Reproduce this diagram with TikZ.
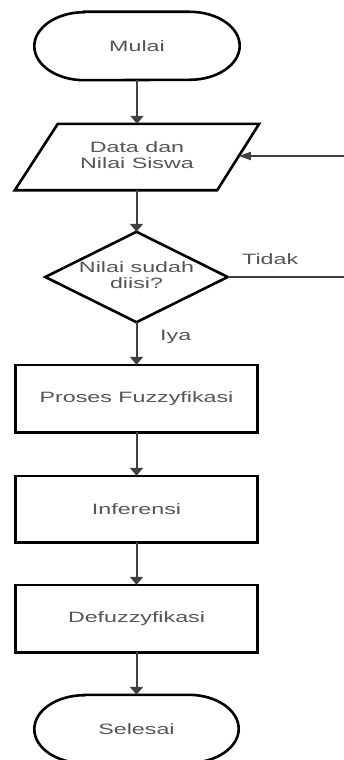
\documentclass[tikz,border=0pt]{standalone}
\usepackage{fontspec}
\setmainfont{Liberation Sans}
\usetikzlibrary{arrows.meta,calc}
\definecolor{txtgray}{HTML}{555555}
\definecolor{conngray}{HTML}{404040}
\newcommand{\sx}[1]{\scalebox{1.55}[1]{#1}}
\newcommand{\twol}[2]{\sx{\begin{tabular}{@{}c@{}}#1\\#2\end{tabular}}}
\begin{document}
\begin{tikzpicture}[x=1pt,y=1pt,
  box/.style={rectangle,draw=none,inner sep=0pt,text=txtgray,
    font=\fontsize{15}{16}\selectfont},
  shapeline/.style={draw=black,line width=2.6pt,line join=miter},
  conn/.style={draw=conngray,line width=2pt},
  vtip/.style={-{Triangle[width=13pt,length=8pt]}},
  htip/.style={-{Triangle[width=8pt,length=12pt]}},
  lbl/.style={text=txtgray,inner sep=0pt,font=\fontsize{15}{16}\selectfont}]
\clip (0,0) rectangle (344,-760);
\fill[white] (0,0) rectangle (344,-760);
% nodes
\node[box,minimum width=205pt,minimum height=68pt] (start) at (137,-46) {\sx{Mulai}};
\node[box,minimum width=244pt,minimum height=66pt] (data) at (137,-157) {\twol{Data dan}{Nilai Siswa}};
\node[box,minimum width=182pt,minimum height=90pt] (dec) at (136.5,-277) {\twol{Nilai sudah}{diisi?}};
\node[box,minimum width=242pt,minimum height=67pt] (p1) at (136.5,-398.5) {\sx{Proses Fuzzyfikasi}};
\node[box,minimum width=242pt,minimum height=66pt] (p2) at (136.5,-509) {\sx{Inferensi}};
\node[box,minimum width=242pt,minimum height=67pt] (p3) at (136.5,-618.5) {\sx{Defuzzyfikasi}};
\node[box,minimum width=204pt,minimum height=68pt] (stop) at (136.5,-729) {\sx{Selesai}};
% shapes
\draw[shapeline] ([xshift=50pt]start.north west) -- ([xshift=-50pt]start.north east)
  arc[start angle=90,end angle=-90,x radius=50pt,y radius=34pt]
  -- ([xshift=50pt]start.south west)
  arc[start angle=270,end angle=90,x radius=50pt,y radius=34pt] -- cycle;
\draw[shapeline] (data.south west) -- ([xshift=43pt]data.north west) -- (data.north east)
  -- ([xshift=-42pt]data.south east) -- cycle;
\draw[shapeline] (dec.north) -- (dec.east) -- (dec.south) -- (dec.west) -- cycle;
\draw[shapeline] (p1.south west) rectangle (p1.north east);
\draw[shapeline] (p2.south west) rectangle (p2.north east);
\draw[shapeline] (p3.south west) rectangle (p3.north east);
\draw[shapeline] ([xshift=50pt]stop.north west) -- ([xshift=-50pt]stop.north east)
  arc[start angle=90,end angle=-90,x radius=50pt,y radius=34pt]
  -- ([xshift=50pt]stop.south west)
  arc[start angle=270,end angle=90,x radius=50pt,y radius=34pt] -- cycle;
% coordinates
\coordinate (dataR) at ($([xshift=-42pt]data.south east)!0.515!(data.north east)$);
\coordinate (fbR) at (352,-277);
% connectors
\draw[conn,vtip] (start.south) -- (start.south |- data.north);
\draw[conn,vtip] (data.south -| dec.north) -- (dec.north);
\draw[conn,vtip] (dec.south) -- (p1.north);
\draw[conn,vtip] (p1.south) -- (p2.north);
\draw[conn,vtip] (p2.south) -- (p3.north);
\draw[conn,vtip] (p3.south) -- (stop.north);
\draw[conn] (dec.east) -- (fbR) -- (fbR |- dataR);
\draw[conn,htip] (fbR |- dataR) -- (dataR);
% labels
\node[lbl,anchor=base west] (tidak) at (242,-264) {\sx{Tidak}};
\node[lbl,anchor=base west] (iya) at (160,-340.5) {\sx{Iya}};
\end{tikzpicture}
\end{document}
